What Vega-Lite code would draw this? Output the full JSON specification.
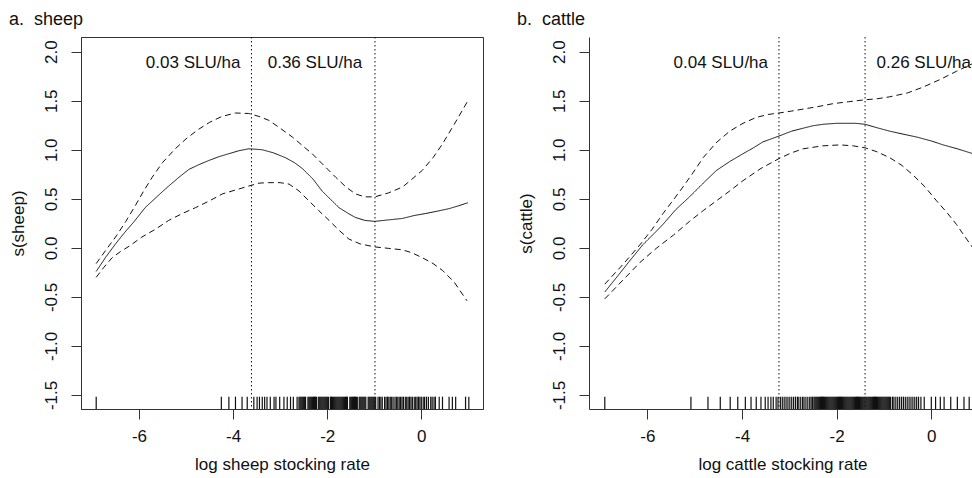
{
  "$schema": "https://vega.github.io/schema/vega-lite/v6.json",
  "padding": {"left": 8, "top": 10, "right": 0, "bottom": 0},
  "config": {
    "font": "Liberation Sans",
    "view": {"stroke": null},
    "concat": {"spacing": 32},
    "axis": {
      "grid": false,
      "tickSize": 10,
      "tickColor": "#333",
      "domainColor": "#333",
      "labelFont": "Liberation Sans",
      "labelFontSize": 17,
      "labelColor": "#111",
      "titleFont": "Liberation Sans",
      "titleFontSize": 17,
      "titleFontWeight": "normal",
      "titleColor": "#111",
      "labelFlush": false,
      "labelOverlap": false
    },
    "axisX": {"labelPadding": 9, "titlePadding": 12},
    "axisY": {"labelAngle": 270, "labelAlign": "center", "labelBaseline": "bottom", "labelPadding": 11, "titlePadding": 15},
    "title": {"font": "Liberation Sans", "fontSize": 18, "fontWeight": "normal", "color": "#111", "anchor": "start", "frame": "bounds", "offset": 8}
  },
  "datasets": {
    "curves": [
      {"panel": "sheep", "s": "fit", "x": -6.91, "y": -0.24},
      {"panel": "sheep", "s": "fit", "x": -6.7, "y": -0.09},
      {"panel": "sheep", "s": "fit", "x": -6.5, "y": 0.04},
      {"panel": "sheep", "s": "fit", "x": -6.3, "y": 0.16},
      {"panel": "sheep", "s": "fit", "x": -6.1, "y": 0.27},
      {"panel": "sheep", "s": "fit", "x": -5.87, "y": 0.41},
      {"panel": "sheep", "s": "fit", "x": -5.6, "y": 0.53},
      {"panel": "sheep", "s": "fit", "x": -5.37, "y": 0.63},
      {"panel": "sheep", "s": "fit", "x": -5.15, "y": 0.72},
      {"panel": "sheep", "s": "fit", "x": -4.94, "y": 0.8},
      {"panel": "sheep", "s": "fit", "x": -4.72, "y": 0.85},
      {"panel": "sheep", "s": "fit", "x": -4.52, "y": 0.89},
      {"panel": "sheep", "s": "fit", "x": -4.3, "y": 0.93},
      {"panel": "sheep", "s": "fit", "x": -4.09, "y": 0.96},
      {"panel": "sheep", "s": "fit", "x": -3.88, "y": 0.99},
      {"panel": "sheep", "s": "fit", "x": -3.67, "y": 1.01},
      {"panel": "sheep", "s": "fit", "x": -3.5, "y": 1.005},
      {"panel": "sheep", "s": "fit", "x": -3.38, "y": 1.0},
      {"panel": "sheep", "s": "fit", "x": -3.15, "y": 0.97},
      {"panel": "sheep", "s": "fit", "x": -2.89, "y": 0.92},
      {"panel": "sheep", "s": "fit", "x": -2.7, "y": 0.87},
      {"panel": "sheep", "s": "fit", "x": -2.53, "y": 0.81},
      {"panel": "sheep", "s": "fit", "x": -2.3, "y": 0.7},
      {"panel": "sheep", "s": "fit", "x": -2.11, "y": 0.58},
      {"panel": "sheep", "s": "fit", "x": -1.92, "y": 0.49},
      {"panel": "sheep", "s": "fit", "x": -1.75, "y": 0.41},
      {"panel": "sheep", "s": "fit", "x": -1.55, "y": 0.35},
      {"panel": "sheep", "s": "fit", "x": -1.4, "y": 0.31},
      {"panel": "sheep", "s": "fit", "x": -1.2, "y": 0.28},
      {"panel": "sheep", "s": "fit", "x": -0.99, "y": 0.27},
      {"panel": "sheep", "s": "fit", "x": -0.7, "y": 0.285},
      {"panel": "sheep", "s": "fit", "x": -0.4, "y": 0.3},
      {"panel": "sheep", "s": "fit", "x": -0.15, "y": 0.33},
      {"panel": "sheep", "s": "fit", "x": 0.09, "y": 0.35},
      {"panel": "sheep", "s": "fit", "x": 0.35, "y": 0.375},
      {"panel": "sheep", "s": "fit", "x": 0.59, "y": 0.4},
      {"panel": "sheep", "s": "fit", "x": 0.8, "y": 0.43},
      {"panel": "sheep", "s": "fit", "x": 0.99, "y": 0.46},

      {"panel": "sheep", "s": "upper", "x": -6.91, "y": -0.16},
      {"panel": "sheep", "s": "upper", "x": -6.7, "y": -0.02},
      {"panel": "sheep", "s": "upper", "x": -6.47, "y": 0.13},
      {"panel": "sheep", "s": "upper", "x": -6.28, "y": 0.27},
      {"panel": "sheep", "s": "upper", "x": -6.08, "y": 0.43},
      {"panel": "sheep", "s": "upper", "x": -5.9, "y": 0.58},
      {"panel": "sheep", "s": "upper", "x": -5.72, "y": 0.72},
      {"panel": "sheep", "s": "upper", "x": -5.5, "y": 0.87},
      {"panel": "sheep", "s": "upper", "x": -5.23, "y": 1.01},
      {"panel": "sheep", "s": "upper", "x": -4.98, "y": 1.12},
      {"panel": "sheep", "s": "upper", "x": -4.73, "y": 1.21},
      {"panel": "sheep", "s": "upper", "x": -4.5, "y": 1.28},
      {"panel": "sheep", "s": "upper", "x": -4.24, "y": 1.34},
      {"panel": "sheep", "s": "upper", "x": -3.95, "y": 1.375},
      {"panel": "sheep", "s": "upper", "x": -3.67, "y": 1.37},
      {"panel": "sheep", "s": "upper", "x": -3.45, "y": 1.34},
      {"panel": "sheep", "s": "upper", "x": -3.24, "y": 1.3},
      {"panel": "sheep", "s": "upper", "x": -3.0, "y": 1.22},
      {"panel": "sheep", "s": "upper", "x": -2.74, "y": 1.13},
      {"panel": "sheep", "s": "upper", "x": -2.52, "y": 1.04},
      {"panel": "sheep", "s": "upper", "x": -2.32, "y": 0.96},
      {"panel": "sheep", "s": "upper", "x": -2.07, "y": 0.84},
      {"panel": "sheep", "s": "upper", "x": -1.82, "y": 0.72},
      {"panel": "sheep", "s": "upper", "x": -1.6, "y": 0.62},
      {"panel": "sheep", "s": "upper", "x": -1.4, "y": 0.55},
      {"panel": "sheep", "s": "upper", "x": -1.2, "y": 0.52},
      {"panel": "sheep", "s": "upper", "x": -0.99, "y": 0.52},
      {"panel": "sheep", "s": "upper", "x": -0.7, "y": 0.56},
      {"panel": "sheep", "s": "upper", "x": -0.4, "y": 0.62},
      {"panel": "sheep", "s": "upper", "x": -0.2, "y": 0.7},
      {"panel": "sheep", "s": "upper", "x": 0.02, "y": 0.79},
      {"panel": "sheep", "s": "upper", "x": 0.25, "y": 0.92},
      {"panel": "sheep", "s": "upper", "x": 0.45, "y": 1.06},
      {"panel": "sheep", "s": "upper", "x": 0.7, "y": 1.26},
      {"panel": "sheep", "s": "upper", "x": 0.99, "y": 1.5},

      {"panel": "sheep", "s": "lower", "x": -6.91, "y": -0.3},
      {"panel": "sheep", "s": "lower", "x": -6.75, "y": -0.2},
      {"panel": "sheep", "s": "lower", "x": -6.57, "y": -0.1},
      {"panel": "sheep", "s": "lower", "x": -6.4, "y": -0.04},
      {"panel": "sheep", "s": "lower", "x": -6.2, "y": 0.02},
      {"panel": "sheep", "s": "lower", "x": -5.94, "y": 0.11},
      {"panel": "sheep", "s": "lower", "x": -5.65, "y": 0.19},
      {"panel": "sheep", "s": "lower", "x": -5.37, "y": 0.28},
      {"panel": "sheep", "s": "lower", "x": -5.08, "y": 0.35},
      {"panel": "sheep", "s": "lower", "x": -4.8, "y": 0.41},
      {"panel": "sheep", "s": "lower", "x": -4.5, "y": 0.48},
      {"panel": "sheep", "s": "lower", "x": -4.23, "y": 0.55},
      {"panel": "sheep", "s": "lower", "x": -3.95, "y": 0.59},
      {"panel": "sheep", "s": "lower", "x": -3.67, "y": 0.63},
      {"panel": "sheep", "s": "lower", "x": -3.45, "y": 0.66},
      {"panel": "sheep", "s": "lower", "x": -3.25, "y": 0.665},
      {"panel": "sheep", "s": "lower", "x": -3.0, "y": 0.665},
      {"panel": "sheep", "s": "lower", "x": -2.81, "y": 0.65},
      {"panel": "sheep", "s": "lower", "x": -2.6, "y": 0.58},
      {"panel": "sheep", "s": "lower", "x": -2.39, "y": 0.48},
      {"panel": "sheep", "s": "lower", "x": -2.18, "y": 0.38},
      {"panel": "sheep", "s": "lower", "x": -1.96, "y": 0.28},
      {"panel": "sheep", "s": "lower", "x": -1.75, "y": 0.18},
      {"panel": "sheep", "s": "lower", "x": -1.54, "y": 0.09},
      {"panel": "sheep", "s": "lower", "x": -1.3, "y": 0.04},
      {"panel": "sheep", "s": "lower", "x": -0.99, "y": 0.01},
      {"panel": "sheep", "s": "lower", "x": -0.7, "y": -0.005},
      {"panel": "sheep", "s": "lower", "x": -0.4, "y": -0.02},
      {"panel": "sheep", "s": "lower", "x": -0.2, "y": -0.05},
      {"panel": "sheep", "s": "lower", "x": 0.02, "y": -0.1},
      {"panel": "sheep", "s": "lower", "x": 0.25, "y": -0.16},
      {"panel": "sheep", "s": "lower", "x": 0.45, "y": -0.23},
      {"panel": "sheep", "s": "lower", "x": 0.7, "y": -0.35},
      {"panel": "sheep", "s": "lower", "x": 0.97, "y": -0.54},

      {"panel": "cattle", "s": "fit", "x": -6.9, "y": -0.45},
      {"panel": "cattle", "s": "fit", "x": -6.6, "y": -0.27},
      {"panel": "cattle", "s": "fit", "x": -6.37, "y": -0.13},
      {"panel": "cattle", "s": "fit", "x": -6.1, "y": 0.03},
      {"panel": "cattle", "s": "fit", "x": -5.81, "y": 0.17},
      {"panel": "cattle", "s": "fit", "x": -5.67, "y": 0.24},
      {"panel": "cattle", "s": "fit", "x": -5.4, "y": 0.39},
      {"panel": "cattle", "s": "fit", "x": -5.11, "y": 0.52},
      {"panel": "cattle", "s": "fit", "x": -4.82, "y": 0.66},
      {"panel": "cattle", "s": "fit", "x": -4.54, "y": 0.79},
      {"panel": "cattle", "s": "fit", "x": -4.26, "y": 0.88},
      {"panel": "cattle", "s": "fit", "x": -3.98, "y": 0.96},
      {"panel": "cattle", "s": "fit", "x": -3.76, "y": 1.02},
      {"panel": "cattle", "s": "fit", "x": -3.56, "y": 1.08},
      {"panel": "cattle", "s": "fit", "x": -3.22, "y": 1.14},
      {"panel": "cattle", "s": "fit", "x": -2.95, "y": 1.19},
      {"panel": "cattle", "s": "fit", "x": -2.71, "y": 1.22},
      {"panel": "cattle", "s": "fit", "x": -2.5, "y": 1.245},
      {"panel": "cattle", "s": "fit", "x": -2.29, "y": 1.26},
      {"panel": "cattle", "s": "fit", "x": -2.0, "y": 1.27},
      {"panel": "cattle", "s": "fit", "x": -1.79, "y": 1.27},
      {"panel": "cattle", "s": "fit", "x": -1.6, "y": 1.27},
      {"panel": "cattle", "s": "fit", "x": -1.4, "y": 1.26},
      {"panel": "cattle", "s": "fit", "x": -1.15, "y": 1.225},
      {"panel": "cattle", "s": "fit", "x": -0.88, "y": 1.19},
      {"panel": "cattle", "s": "fit", "x": -0.6, "y": 1.16},
      {"panel": "cattle", "s": "fit", "x": -0.31, "y": 1.13},
      {"panel": "cattle", "s": "fit", "x": 0.0, "y": 1.09},
      {"panel": "cattle", "s": "fit", "x": 0.25, "y": 1.05},
      {"panel": "cattle", "s": "fit", "x": 0.55, "y": 1.01},
      {"panel": "cattle", "s": "fit", "x": 0.88, "y": 0.96},
      {"panel": "cattle", "s": "fit", "x": 1.1, "y": 0.92},

      {"panel": "cattle", "s": "upper", "x": -6.9, "y": -0.37},
      {"panel": "cattle", "s": "upper", "x": -6.5, "y": -0.16},
      {"panel": "cattle", "s": "upper", "x": -6.16, "y": 0.03},
      {"panel": "cattle", "s": "upper", "x": -5.9, "y": 0.19},
      {"panel": "cattle", "s": "upper", "x": -5.67, "y": 0.35},
      {"panel": "cattle", "s": "upper", "x": -5.45, "y": 0.49},
      {"panel": "cattle", "s": "upper", "x": -5.25, "y": 0.62},
      {"panel": "cattle", "s": "upper", "x": -5.03, "y": 0.77},
      {"panel": "cattle", "s": "upper", "x": -4.82, "y": 0.92},
      {"panel": "cattle", "s": "upper", "x": -4.55, "y": 1.07},
      {"panel": "cattle", "s": "upper", "x": -4.26, "y": 1.19},
      {"panel": "cattle", "s": "upper", "x": -3.98, "y": 1.27},
      {"panel": "cattle", "s": "upper", "x": -3.7, "y": 1.33},
      {"panel": "cattle", "s": "upper", "x": -3.45, "y": 1.36},
      {"panel": "cattle", "s": "upper", "x": -3.22, "y": 1.375},
      {"panel": "cattle", "s": "upper", "x": -2.95, "y": 1.395},
      {"panel": "cattle", "s": "upper", "x": -2.71, "y": 1.415},
      {"panel": "cattle", "s": "upper", "x": -2.4, "y": 1.44},
      {"panel": "cattle", "s": "upper", "x": -2.08, "y": 1.47},
      {"panel": "cattle", "s": "upper", "x": -1.75, "y": 1.49},
      {"panel": "cattle", "s": "upper", "x": -1.4, "y": 1.51},
      {"panel": "cattle", "s": "upper", "x": -1.15, "y": 1.52},
      {"panel": "cattle", "s": "upper", "x": -0.88, "y": 1.54},
      {"panel": "cattle", "s": "upper", "x": -0.5, "y": 1.58},
      {"panel": "cattle", "s": "upper", "x": -0.17, "y": 1.64},
      {"panel": "cattle", "s": "upper", "x": 0.2, "y": 1.72},
      {"panel": "cattle", "s": "upper", "x": 0.53, "y": 1.8},
      {"panel": "cattle", "s": "upper", "x": 0.88, "y": 1.88},
      {"panel": "cattle", "s": "upper", "x": 1.1, "y": 1.94},

      {"panel": "cattle", "s": "lower", "x": -6.9, "y": -0.52},
      {"panel": "cattle", "s": "lower", "x": -6.5, "y": -0.32},
      {"panel": "cattle", "s": "lower", "x": -6.16, "y": -0.15},
      {"panel": "cattle", "s": "lower", "x": -5.8, "y": 0.0},
      {"panel": "cattle", "s": "lower", "x": -5.45, "y": 0.13},
      {"panel": "cattle", "s": "lower", "x": -5.11, "y": 0.27},
      {"panel": "cattle", "s": "lower", "x": -4.82, "y": 0.38},
      {"panel": "cattle", "s": "lower", "x": -4.54, "y": 0.48},
      {"panel": "cattle", "s": "lower", "x": -4.26, "y": 0.58},
      {"panel": "cattle", "s": "lower", "x": -3.98, "y": 0.685},
      {"panel": "cattle", "s": "lower", "x": -3.6, "y": 0.81},
      {"panel": "cattle", "s": "lower", "x": -3.22, "y": 0.91},
      {"panel": "cattle", "s": "lower", "x": -2.95, "y": 0.97},
      {"panel": "cattle", "s": "lower", "x": -2.71, "y": 1.01},
      {"panel": "cattle", "s": "lower", "x": -2.3, "y": 1.04},
      {"panel": "cattle", "s": "lower", "x": -1.93, "y": 1.05},
      {"panel": "cattle", "s": "lower", "x": -1.65, "y": 1.04},
      {"panel": "cattle", "s": "lower", "x": -1.4, "y": 1.02},
      {"panel": "cattle", "s": "lower", "x": -1.15, "y": 0.98},
      {"panel": "cattle", "s": "lower", "x": -0.88, "y": 0.92},
      {"panel": "cattle", "s": "lower", "x": -0.62, "y": 0.84},
      {"panel": "cattle", "s": "lower", "x": -0.38, "y": 0.74},
      {"panel": "cattle", "s": "lower", "x": -0.13, "y": 0.62},
      {"panel": "cattle", "s": "lower", "x": 0.11, "y": 0.48},
      {"panel": "cattle", "s": "lower", "x": 0.33, "y": 0.36},
      {"panel": "cattle", "s": "lower", "x": 0.53, "y": 0.24},
      {"panel": "cattle", "s": "lower", "x": 0.7, "y": 0.12},
      {"panel": "cattle", "s": "lower", "x": 0.85, "y": 0.02},
      {"panel": "cattle", "s": "lower", "x": 1.0, "y": -0.1},
      {"panel": "cattle", "s": "lower", "x": 1.1, "y": -0.18}
    ],
    "cuts": [
      {"panel": "sheep", "x": -3.61},
      {"panel": "sheep", "x": -0.985},
      {"panel": "cattle", "x": -3.22},
      {"panel": "cattle", "x": -1.4}
    ],
    "labels": [
      {"panel": "sheep", "x": -4.85, "y": 1.88, "label": "0.03 SLU/ha"},
      {"panel": "sheep", "x": -2.26, "y": 1.88, "label": "0.36 SLU/ha"},
      {"panel": "cattle", "x": -4.45, "y": 1.88, "label": "0.04 SLU/ha"},
      {"panel": "cattle", "x": -0.16, "y": 1.88, "label": "0.26 SLU/ha"}
    ],
    "rug_sheep": [
      {"x": -6.91}, {"x": -4.25}, {"x": -4.09}, {"x": -3.95}, {"x": -3.81}, {"x": -3.7}, {"x": -3.56}, {"x": -3.49}, {"x": -3.44}, {"x": -3.38}, {"x": -3.33}, {"x": -3.28}, {"x": -3.21}, {"x": -3.13}, {"x": -3.09}, {"x": -3.01}, {"x": -2.92}, {"x": -2.85}, {"x": -2.78}, {"x": -2.72}, {"x": -2.64},
      {"x": -2.6}, {"x": -2.58}, {"x": -2.56}, {"x": -2.54}, {"x": -2.52}, {"x": -2.5}, {"x": -2.48}, {"x": -2.46}, {"x": -2.41}, {"x": -2.39}, {"x": -2.37}, {"x": -2.35}, {"x": -2.33}, {"x": -2.31}, {"x": -2.29}, {"x": -2.27}, {"x": -2.25}, {"x": -2.23}, {"x": -2.19}, {"x": -2.17}, {"x": -2.15}, {"x": -2.13}, {"x": -2.11}, {"x": -2.09}, {"x": -2.07}, {"x": -2.05}, {"x": -2.03}, {"x": -2.01}, {"x": -1.99}, {"x": -1.97}, {"x": -1.93}, {"x": -1.91}, {"x": -1.89}, {"x": -1.87}, {"x": -1.85}, {"x": -1.83}, {"x": -1.81}, {"x": -1.79}, {"x": -1.77}, {"x": -1.75}, {"x": -1.73}, {"x": -1.71}, {"x": -1.69}, {"x": -1.67}, {"x": -1.65}, {"x": -1.63}, {"x": -1.61}, {"x": -1.59}, {"x": -1.57}, {"x": -1.52}, {"x": -1.5}, {"x": -1.48}, {"x": -1.46}, {"x": -1.44}, {"x": -1.42}, {"x": -1.4}, {"x": -1.38}, {"x": -1.36}, {"x": -1.32}, {"x": -1.3}, {"x": -1.28}, {"x": -1.26}, {"x": -1.24}, {"x": -1.22}, {"x": -1.2}, {"x": -1.18}, {"x": -1.13}, {"x": -1.11}, {"x": -1.09}, {"x": -1.07}, {"x": -1.05}, {"x": -1.03}, {"x": -1.01}, {"x": -0.99}, {"x": -0.97},
      {"x": -0.92}, {"x": -0.89}, {"x": -0.86}, {"x": -0.83}, {"x": -0.78}, {"x": -0.75}, {"x": -0.72}, {"x": -0.69}, {"x": -0.66}, {"x": -0.63}, {"x": -0.6}, {"x": -0.56}, {"x": -0.53}, {"x": -0.5}, {"x": -0.47}, {"x": -0.44}, {"x": -0.41}, {"x": -0.38}, {"x": -0.34}, {"x": -0.31}, {"x": -0.28}, {"x": -0.25}, {"x": -0.22}, {"x": -0.19}, {"x": -0.15}, {"x": -0.12}, {"x": -0.09}, {"x": -0.06}, {"x": -0.03}, {"x": 0.0}, {"x": 0.04}, {"x": 0.07}, {"x": 0.11}, {"x": 0.15}, {"x": 0.2}, {"x": 0.23}, {"x": 0.27}, {"x": 0.3}, {"x": 0.38}, {"x": 0.45}, {"x": 0.59}, {"x": 0.66}, {"x": 0.73}, {"x": 0.94}, {"x": 1.01}
    ],
    "rug_cattle": [
      {"x": -6.9}, {"x": -5.08}, {"x": -4.72}, {"x": -4.46}, {"x": -4.25}, {"x": -4.09}, {"x": -3.93}, {"x": -3.81}, {"x": -3.7}, {"x": -3.6}, {"x": -3.51}, {"x": -3.45}, {"x": -3.39}, {"x": -3.34}, {"x": -3.28}, {"x": -3.24}, {"x": -3.19}, {"x": -3.15}, {"x": -3.11}, {"x": -3.07}, {"x": -3.03}, {"x": -2.99}, {"x": -2.95}, {"x": -2.91}, {"x": -2.87}, {"x": -2.83}, {"x": -2.8}, {"x": -2.76}, {"x": -2.72}, {"x": -2.69}, {"x": -2.65}, {"x": -2.61}, {"x": -2.57}, {"x": -2.54}, {"x": -2.51},
      {"x": -2.48}, {"x": -2.46}, {"x": -2.44}, {"x": -2.42}, {"x": -2.4}, {"x": -2.38}, {"x": -2.36}, {"x": -2.34}, {"x": -2.32}, {"x": -2.3}, {"x": -2.28}, {"x": -2.26}, {"x": -2.24}, {"x": -2.22}, {"x": -2.2}, {"x": -2.18}, {"x": -2.16}, {"x": -2.14}, {"x": -2.12}, {"x": -2.1}, {"x": -2.08}, {"x": -2.06}, {"x": -2.04}, {"x": -2.02}, {"x": -2.0}, {"x": -1.98}, {"x": -1.96}, {"x": -1.94}, {"x": -1.92}, {"x": -1.9}, {"x": -1.88}, {"x": -1.86}, {"x": -1.84}, {"x": -1.82}, {"x": -1.8}, {"x": -1.78}, {"x": -1.76}, {"x": -1.74}, {"x": -1.72}, {"x": -1.7}, {"x": -1.68}, {"x": -1.66}, {"x": -1.64}, {"x": -1.62}, {"x": -1.6}, {"x": -1.58}, {"x": -1.56}, {"x": -1.54}, {"x": -1.52}, {"x": -1.5}, {"x": -1.48}, {"x": -1.46}, {"x": -1.44}, {"x": -1.42}, {"x": -1.4}, {"x": -1.38}, {"x": -1.36}, {"x": -1.34}, {"x": -1.32}, {"x": -1.3}, {"x": -1.28}, {"x": -1.26}, {"x": -1.24}, {"x": -1.22}, {"x": -1.2}, {"x": -1.18}, {"x": -1.16}, {"x": -1.14}, {"x": -1.12}, {"x": -1.1}, {"x": -1.08}, {"x": -1.06}, {"x": -1.04}, {"x": -1.02}, {"x": -1.0}, {"x": -0.98}, {"x": -0.96}, {"x": -0.94}, {"x": -0.92}, {"x": -0.9}, {"x": -0.88}, {"x": -0.86},
      {"x": -0.82}, {"x": -0.79}, {"x": -0.75}, {"x": -0.71}, {"x": -0.67}, {"x": -0.63}, {"x": -0.59}, {"x": -0.55}, {"x": -0.51}, {"x": -0.47}, {"x": -0.43}, {"x": -0.39}, {"x": -0.35}, {"x": -0.31}, {"x": -0.27}, {"x": -0.22}, {"x": -0.15}, {"x": 0.0}, {"x": 0.09}, {"x": 0.19}, {"x": 0.27}, {"x": 0.41}, {"x": 0.55}, {"x": 0.69}, {"x": 0.8}, {"x": 0.9}
    ]
  },
  "hconcat": [
    {
      "width": 402,
      "height": 372,
      "view": {"stroke": "#333", "strokeWidth": 1},
      "title": {"text": "a.\u00a0\u00a0sheep"},
      "layer": [
        {
          "data": {"name": "curves"},
          "transform": [{"filter": "datum.panel == 'sheep'"}],
          "mark": {"type": "line", "color": "#111", "strokeWidth": 1, "clip": true},
          "encoding": {
            "x": {"field": "x", "type": "quantitative", "title": "log sheep stocking rate",
                  "scale": {"domain": [-7.233, 1.311], "nice": false, "zero": false},
                  "axis": {"values": [-6, -4, -2, 0], "labelExpr": "replace(datum.label, '\u2212', '-')"}},
            "y": {"field": "y", "type": "quantitative", "title": "s(sheep)",
                  "scale": {"domain": [-1.643, 2.15], "nice": false, "zero": false},
                  "axis": {"values": [-1.5, -1, -0.5, 0, 0.5, 1, 1.5, 2], "format": ".1f", "labelExpr": "replace(datum.label, '\u2212', '-')"}},
            "detail": {"field": "s"},
            "strokeDash": {"field": "s", "type": "nominal", "legend": null,
                           "scale": {"domain": ["fit", "upper", "lower"], "range": [[1, 0], [6, 4], [6, 4]]}}
          }
        },
        {
          "data": {"name": "cuts"},
          "transform": [{"filter": "datum.panel == 'sheep'"}],
          "mark": {"type": "rule", "color": "#111", "strokeWidth": 1, "strokeDash": [1.5, 2.5]},
          "encoding": {"x": {"field": "x", "type": "quantitative"}}
        },
        {
          "data": {"name": "rug_sheep"},
          "mark": {"type": "rule", "color": "#111", "strokeWidth": 1.2, "clip": true},
          "encoding": {
            "x": {"field": "x", "type": "quantitative"},
            "y": {"datum": -1.643},
            "y2": {"datum": -1.517}
          }
        },
        {
          "data": {"name": "labels"},
          "transform": [{"filter": "datum.panel == 'sheep'"}],
          "mark": {"type": "text", "fontSize": 17, "color": "#111", "align": "center", "baseline": "middle"},
          "encoding": {
            "x": {"field": "x", "type": "quantitative"},
            "y": {"field": "y", "type": "quantitative"},
            "text": {"field": "label"}
          }
        }
      ]
    },
    {
      "width": 387,
      "height": 372,
      "title": {"text": "b.\u00a0\u00a0cattle"},
      "layer": [
        {
          "data": {"name": "curves"},
          "transform": [{"filter": "datum.panel == 'cattle'"}],
          "mark": {"type": "line", "color": "#111", "strokeWidth": 1, "clip": true},
          "encoding": {
            "x": {"field": "x", "type": "quantitative", "title": "log cattle stocking rate",
                  "scale": {"domain": [-7.234, 0.944], "nice": false, "zero": false},
                  "axis": {"values": [-6, -4, -2, 0], "labelExpr": "replace(datum.label, '\u2212', '-')"}},
            "y": {"field": "y", "type": "quantitative", "title": "s(cattle)",
                  "scale": {"domain": [-1.643, 2.15], "nice": false, "zero": false},
                  "axis": {"values": [-1.5, -1, -0.5, 0, 0.5, 1, 1.5, 2], "format": ".1f", "labelExpr": "replace(datum.label, '\u2212', '-')"}},
            "detail": {"field": "s"},
            "strokeDash": {"field": "s", "type": "nominal", "legend": null,
                           "scale": {"domain": ["fit", "upper", "lower"], "range": [[1, 0], [6, 4], [6, 4]]}}
          }
        },
        {
          "data": {"name": "cuts"},
          "transform": [{"filter": "datum.panel == 'cattle'"}],
          "mark": {"type": "rule", "color": "#111", "strokeWidth": 1, "strokeDash": [1.5, 2.5]},
          "encoding": {"x": {"field": "x", "type": "quantitative"}}
        },
        {
          "data": {"name": "rug_cattle"},
          "mark": {"type": "rule", "color": "#111", "strokeWidth": 1.2, "clip": true},
          "encoding": {
            "x": {"field": "x", "type": "quantitative"},
            "y": {"datum": -1.643},
            "y2": {"datum": -1.517}
          }
        },
        {
          "mark": {"type": "rule", "color": "#333", "strokeWidth": 1},
          "encoding": {"y": {"datum": 2.15}}
        },
        {
          "data": {"name": "labels"},
          "transform": [{"filter": "datum.panel == 'cattle'"}],
          "mark": {"type": "text", "fontSize": 17, "color": "#111", "align": "center", "baseline": "middle"},
          "encoding": {
            "x": {"field": "x", "type": "quantitative"},
            "y": {"field": "y", "type": "quantitative"},
            "text": {"field": "label"}
          }
        }
      ]
    }
  ]
}
